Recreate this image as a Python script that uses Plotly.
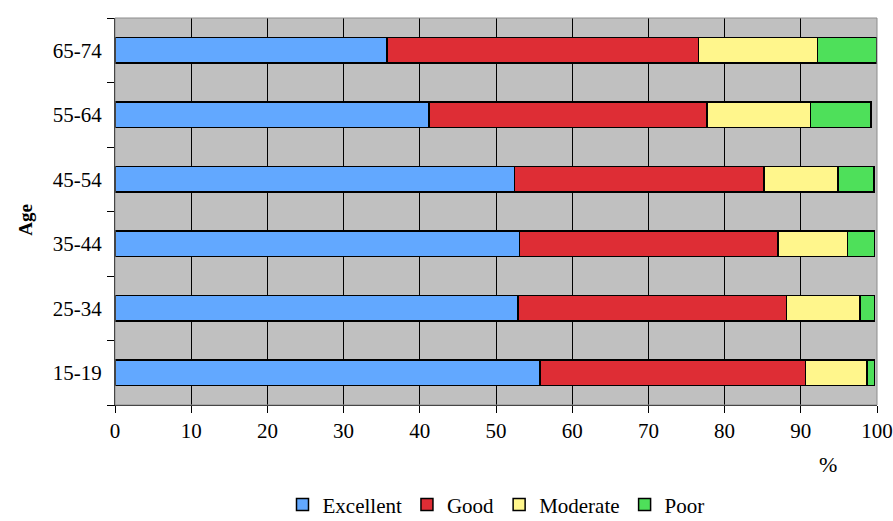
import plotly.graph_objects as go

# Age groups, bottom to top
age_groups = ["15-19", "25-34", "35-44", "45-54", "55-64", "65-74"]

# Self-rated health shares (%) per age group
excellent = [55.8, 52.9, 53.1, 52.4, 41.2, 35.7]
good = [34.8, 35.2, 33.9, 32.8, 36.5, 40.9]
moderate = [8.1, 9.7, 9.1, 9.7, 13.6, 15.6]
poor = [1.0, 1.9, 3.6, 4.7, 7.9, 7.8]

x_ticks = [0, 10, 20, 30, 40, 50, 60, 70, 80, 90, 100]

series = [
    ("Excellent", excellent, "#62A8FF"),
    ("Good", good, "#DE2D35"),
    ("Moderate", moderate, "#FFF68C"),
    ("Poor", poor, "#4EE05A"),
]

FONT = "Liberation Serif"

fig = go.Figure()
for name, vals, color in series:
    fig.add_trace(go.Bar(
        y=age_groups, x=vals, name=name, orientation="h",
        marker=dict(color=color, line=dict(color="#000000", width=1.5)),
    ))

fig.update_layout(
    barmode="stack",
    bargap=0.6,
    width=893, height=521,
    margin=dict(l=115, r=16, t=18, b=116, autoexpand=False),
    paper_bgcolor="#FFFFFF",
    plot_bgcolor="#C0C0C0",
    font=dict(family=FONT, size=21, color="#000000"),
    showlegend=True,
    legend=dict(
        orientation="h", x=0.5, xanchor="center", y=-0.258, yanchor="middle",
        font=dict(family=FONT, size=21), traceorder="normal",
        itemclick=False, itemwidth=30, tracegroupgap=0,
        bgcolor="rgba(0,0,0,0)",
    ),
    xaxis=dict(
        range=[0, 100], tickvals=x_ticks, ticktext=[str(t) for t in x_ticks],
        showgrid=True, gridcolor="#000000", gridwidth=1,
        showline=True, linecolor="#000000", linewidth=1,
        ticks="outside", ticklen=7, tickcolor="#000000",
        zeroline=False, fixedrange=True, automargin=False,
    ),
    yaxis=dict(
        type="category", tickson="boundaries",
        showgrid=False, showline=True, linecolor="#000000", linewidth=1,
        ticks="outside", ticklen=7, tickcolor="#000000",
        ticklabelstandoff=8, automargin=False, fixedrange=True,
    ),
    annotations=[
        dict(text="<b>Age</b>", x=-0.135, y=0.478, xref="paper", yref="paper",
             textangle=-90, showarrow=False, font=dict(family=FONT, size=19)),
        dict(text="%", x=93.6, y=-0.19, xref="x", yref="paper",
             showarrow=False, font=dict(family=FONT, size=22)),
    ],
    shapes=[
        dict(type="rect", xref="paper", yref="paper", x0=0, x1=1, y0=0, y1=1,
             line=dict(color="#8C8C8C", width=1), layer="above"),
    ],
)

fig.write_html("out.html")
